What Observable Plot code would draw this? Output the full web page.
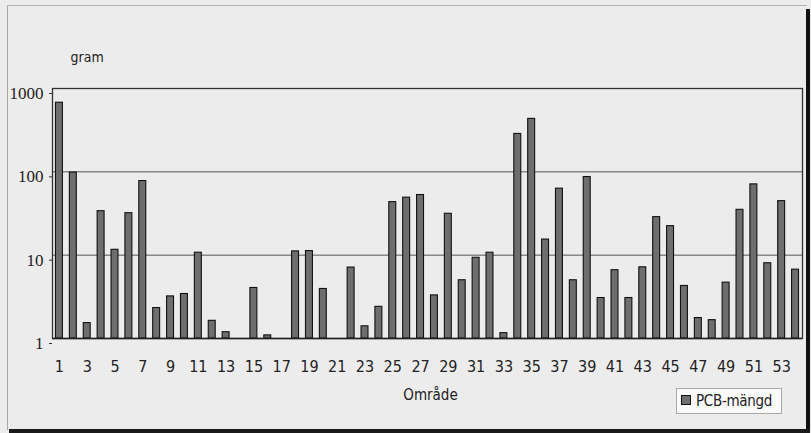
<!DOCTYPE html>
<html>
<head>
<meta charset="utf-8">
<script src="https://cdn.jsdelivr.net/npm/d3@7"></script>
<script src="https://cdn.jsdelivr.net/npm/@observablehq/plot@0.6"></script>
<style>
  html, body { margin: 0; padding: 0; background: #ececec; }
  #wrap { position: relative; width: 811px; height: 433px; overflow: hidden; background: #ececec; }
  .ln { position: absolute; }
  #chart { position: absolute; left: 0; top: 0; }
  #legend {
    position: absolute; left: 676px; top: 388px; width: 106px; height: 26px;
    background: #fafafa; border: 1px solid #a8a8a8; box-sizing: border-box;
    font-family: "DejaVu Sans Condensed", "Liberation Sans", sans-serif;
    font-size: 15px; color: #222; line-height: 24px; white-space: nowrap; letter-spacing: -0.3px;
  }
  #legend .sw {
    display: inline-block; width: 8px; height: 8px; background: #6e6e6e; border: 1px solid #111;
    margin: 0 5px 0 4px; vertical-align: 1px;
  }
</style>
</head>
<body>
<div id="wrap">
  <div class="ln" style="left:7px;top:5px;width:1px;height:425px;background:#a9a9a9"></div>
  <div class="ln" style="left:7px;top:5px;width:800px;height:1px;background:#b5b5b5"></div>
  <div class="ln" style="left:806px;top:9px;width:4px;height:424px;background:#111"></div>
  <div class="ln" style="left:9px;top:429px;width:801px;height:4px;background:#1a1a1a"></div>
  <div id="chart"></div>
  <div id="legend"><span class="sw"></span>PCB-mängd</div>
</div>
<script>
// Areas (Område) 1..54
const areas = d3.range(1, 55);
// PCB amount in grams (log scale); null = no bar drawn
const values = [
  675, 98, 1.53, 33.7, 11.6, 31.9, 77.5, 2.32, 3.2, 3.42,
  10.7, 1.63, 1.19, null, 4.04, 1.09, null, 11.1, 11.2, 3.93,
  null, 7.1, 1.4, 2.4, 43.3, 49, 52.7, 3.29, 31.4, 5.0,
  9.3, 10.7, 1.16, 285, 432, 15.4, 62.8, 5.0, 86.6, 3.06,
  6.6, 3.06, 7.15, 28.6, 22.3, 4.27, 1.76, 1.66, 4.68, 35,
  70.7, 8.0, 44.5, 6.7
];
const xTickLabels = areas.filter(d => d % 2 === 1);
const yTicks = [1, 10, 100, 1000];
const yLabel = "gram";
const xLabel = "Område";

const data = areas.map((a, i) => ({area: a, value: values[i]})).filter(d => d.value != null);
const sans = "'DejaVu Sans Condensed', 'Liberation Sans', sans-serif";

const chart = Plot.plot({
  width: 811,
  height: 433,
  marginLeft: 52,
  marginRight: 9,
  marginTop: 88,
  marginBottom: 95,
  style: {background: "transparent", overflow: "visible"},
  x: {type: "band", domain: areas, paddingInner: 0.5, paddingOuter: 0.25},
  y: {type: "log", domain: [1, 1000]},
  marks: [
    Plot.ruleY([10, 100], {stroke: "#555", strokeWidth: 1}),
    Plot.frame({stroke: "#333", strokeWidth: 1.3}),
    Plot.barY(data, {x: "area", y1: () => 1, y2: "value", fill: "#6e6e6e", stroke: "#111", strokeWidth: 1.1}),
    Plot.ruleY([1], {stroke: "#222", strokeWidth: 1.5}),
    Plot.axisX({
      ticks: xTickLabels, tickSize: 0, tickPadding: 22,
      fontSize: 16, fontFamily: sans, fill: "#222", label: null
    }),
    Plot.axisY({
      ticks: yTicks, tickFormat: d => String(d), tickSize: 3, tickPadding: 6, dy: 5,
      fontSize: 17, fontFamily: "'Liberation Serif', serif", fill: "#222", stroke: "#333", label: null
    }),
    Plot.text([yLabel], {frameAnchor: "top-left", dx: 18, dy: -36, text: d => d, textAnchor: "start",
      fontSize: 14, fontFamily: sans, fill: "#222"}),
    Plot.text([xLabel], {frameAnchor: "bottom", dx: 3, dy: 61, text: d => d,
      fontSize: 15, fontFamily: sans, fill: "#222"})
  ]
});
document.getElementById("chart").appendChild(chart);
</script>
</body>
</html>
